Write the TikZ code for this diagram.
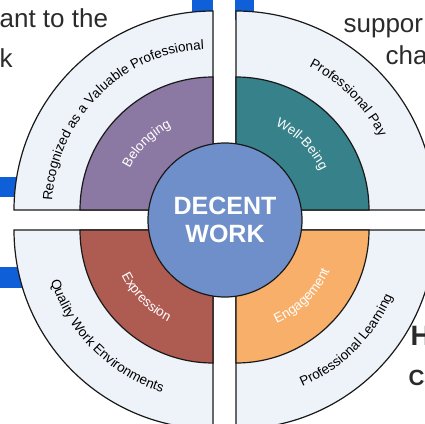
\documentclass[tikz,border=0pt]{standalone}
\usepackage{fontspec}
\setmainfont{Liberation Sans}
\usetikzlibrary{decorations.text}
\definecolor{band}{HTML}{EEF3FA}
\definecolor{belong}{HTML}{8B78A3}
\definecolor{well}{HTML}{36818A}
\definecolor{expr}{HTML}{AE5C52}
\definecolor{engage}{HTML}{F8AF6A}
\definecolor{hub}{HTML}{6E8FC9}
\definecolor{bar}{HTML}{0E5FD8}
\definecolor{ink}{HTML}{2B2B2B}
\newcommand{\ringfont}{\fontsize{13.5}{15}\selectfont}

\begin{document}
\begin{tikzpicture}[x=1pt,y=1pt,line width=1.2pt,
    quad/.style={draw=black!90,fill=band},
    core/.style={draw=black!90,fill=#1},
    side/.style={anchor=base west,inner sep=0pt,text=ink,font=\fontsize{26}{30}\selectfont},
    head/.style={anchor=base west,inner sep=0pt,text=ink,font=\bfseries\fontsize{#1}{#1}\selectfont},
    ontext/.style={decorate,decoration={text along path,text align=center,text={|\ringfont|#1}}},
    intext/.style={decorate,decoration={text along path,text align=center,text={|\ringfont\color{white}|#1}}}]
    \useasboundingbox (-225,-203) rectangle (200,220);
    \clip (-225,-203) rectangle (200,220);

    % text and bars around the wheel
    \fill[bar] (-33,200) rectangle (-12,220);
    \fill[bar] (10,200) rectangle (29,220);
    \fill[bar] (-225,23) rectangle (-205,43);
    \fill[bar] (-225,-68) rectangle (-200,-47);
    \node[side] (t1) at (-226,192) {ant to the};
    \node[side] (t2) at (-226,152) {k};
    \node[side] (t3) at (118,187) {suppor};
    \node[side] (t4) at (160,155) {cha};
    \node[head=28] (t5) at (185,-125) {H};
    \node[head=22] (t6) at (183,-165) {Ca};

    \coordinate (tl) at (-12,10);
    \coordinate (tr) at (11,10);
    \coordinate (bl) at (-12,-10);
    \coordinate (br) at (11,-10);

    \draw[quad] (tl) -- ++(180:199) arc[start angle=180,end angle=90,radius=199] -- cycle;
    \draw[quad] (tr) -- ++(90:199) arc[start angle=90,end angle=0,radius=199] -- cycle;
    \draw[quad] (bl) -- ++(180:199) arc[start angle=180,end angle=270,radius=199] -- cycle;
    \draw[quad] (br) -- ++(270:199) arc[start angle=270,end angle=360,radius=199] -- cycle;
    \draw[core=belong] (tl) -- ++(180:133) arc[start angle=180,end angle=90,radius=133] -- cycle;
    \draw[core=well] (tr) -- ++(90:133) arc[start angle=90,end angle=0,radius=133] -- cycle;
    \draw[core=expr] (bl) -- ++(180:133) arc[start angle=180,end angle=270,radius=133] -- cycle;
    \draw[core=engage] (br) -- ++(270:133) arc[start angle=270,end angle=360,radius=133] -- cycle;

    \path[ontext={Recognized as a Valuable Professional}] (tl) ++(180:161) arc[start angle=180,end angle=90,radius=161];
    \path[ontext={Professional Pay}] (tr) ++(90:161) arc[start angle=90,end angle=0,radius=161];
    \path[ontext={Quality Work Environments}] (bl) ++(180:170) arc[start angle=180,end angle=270,radius=170];
    \path[ontext={Professional Learning}] (br) ++(270:170) arc[start angle=270,end angle=360,radius=170];
    \path[intext={Belonging}] (tl) ++(180:93) arc[start angle=180,end angle=90,radius=93];
    \path[intext={Well-Being}] (tr) ++(90:93) arc[start angle=90,end angle=0,radius=93];
    \path[intext={Expression}] (bl) ++(180:102) arc[start angle=180,end angle=270,radius=102];
    \path[intext={Engagement}] (br) ++(270:102) arc[start angle=270,end angle=360,radius=102];

    \node[circle,draw=black!90,fill=hub,minimum size=154pt,inner sep=0pt,text=white,align=center,
        font=\bfseries\fontsize{25}{28}\selectfont] (hub) at (0,0) {DECENT\\WORK};
\end{tikzpicture}
\end{document}
